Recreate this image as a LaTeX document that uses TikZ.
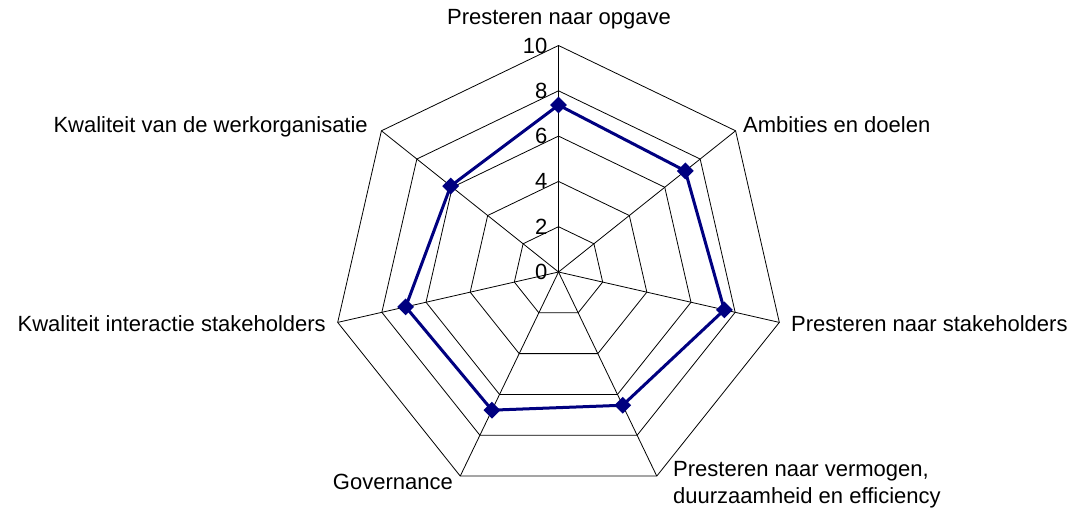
\documentclass[tikz,border=0pt]{standalone}
\usepackage{fontspec}
\setmainfont{Liberation Sans}
\usetikzlibrary{shapes.geometric}
\definecolor{navyline}{RGB}{0,0,128}
\begin{document}
\begin{tikzpicture}[x=1pt,y=1pt,
  grid/.style={draw=black,line width=0.8pt},
  lbl/.style={font=\fontsize{22}{26.6}\selectfont,inner sep=0pt},
  tick/.style={font=\fontsize{22}{26}\selectfont,inner sep=0pt,anchor=east},
  series/.style={draw=navyline,line width=3pt,line join=miter},
  marker/.style={diamond,fill=navyline,minimum width=17pt,minimum height=17pt,inner sep=0pt}]
\useasboundingbox (0,0) rectangle (1070,-508);
\coordinate (C) at (558.5,-272);
\begin{scope}[shift={(C)}]
  \foreach \i in {0,...,6} { \coordinate (a\i) at ({90-\i*360/7}:226.5); }
  \foreach \l in {2,4,6,8,10} {
    \draw[grid] (90:{\l*22.65}) -- ({90-360/7}:{\l*22.65}) -- ({90-2*360/7}:{\l*22.65})
      -- ({90-3*360/7}:{\l*22.65}) -- ({90-4*360/7}:{\l*22.65}) -- ({90-5*360/7}:{\l*22.65})
      -- ({90-6*360/7}:{\l*22.65}) -- cycle;
  }
  \foreach \i in {0,...,6} { \draw[grid] (C) -- (a\i); }
  \foreach \v [count=\i from 0] in {7.37,7.16,7.51,6.53,6.77,6.92,6.09} {
    \coordinate (p\i) at ({90-\i*360/7}:{\v*22.65});
  }
  \draw[series] (p0) -- (p1) -- (p2) -- (p3) -- (p4) -- (p5) -- (p6) -- cycle;
  \foreach \i in {0,...,6} { \node[marker] (m\i) at (p\i) {}; }
  \foreach \v in {0,2,4,6,8,10} { \node[tick] (t\v) at (-11,{\v*22.65}) {\v}; }
\end{scope}
\node[lbl,anchor=base] (L0) at (559,-25) {Presteren naar opgave};
\node[lbl,anchor=base west] (L1) at (743,-132.3) {Ambities en doelen};
\node[lbl,anchor=base west] (L2) at (791,-331.7) {Presteren naar stakeholders};
\node[lbl,anchor=base west,align=left] (L3) at (673,-503.3) {Presteren naar vermogen,\\duurzaamheid en efficiency};
\node[lbl,anchor=base east] (L4) at (453,-489.5) {Governance};
\node[lbl,anchor=base east] (L5) at (326,-331.7) {Kwaliteit interactie stakeholders};
\node[lbl,anchor=base east] (L6) at (368,-132.3) {Kwaliteit van de werkorganisatie};
\end{tikzpicture}
\end{document}
